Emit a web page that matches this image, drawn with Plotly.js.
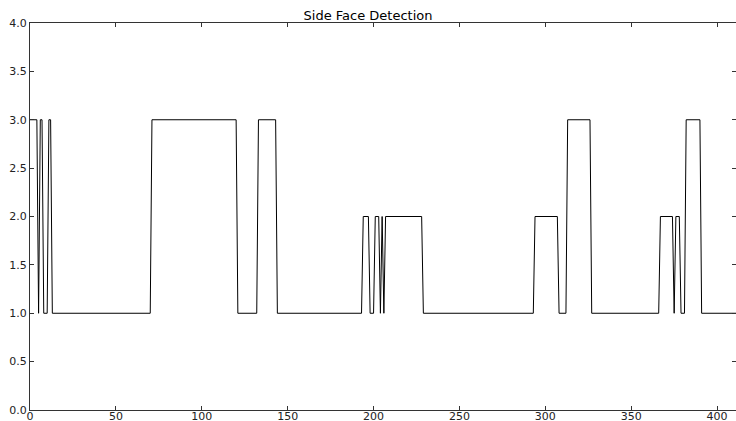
<!DOCTYPE html>
<html>
<head>
<meta charset="utf-8">
<script src="https://cdn.plot.ly/plotly-3.0.1.min.js"></script>
<style>html,body{margin:0;padding:0;background:#fff;}#chart{width:736px;height:421px;}</style>
</head>
<body>
<div id="chart"></div>
<script>
// Vertices of the detection trace (frame index, detected class)
var frames = [0,4,5,6,7,8,10,11,12,13,70,71,120,121,132,133,143,144,193,194,197,198,200,201,203,204,205,206,207,228,229,293,294,307,308,312,313,326,327,366,367,374,375,376,378,379,381,382,390,391,411];
var values = [3,3,1,3,3,1,1,3,3,1,1,3,3,1,1,3,3,1,1,2,2,1,1,2,2,1,2,1,2,2,1,1,2,2,1,1,3,3,1,1,2,2,1,2,2,1,1,3,3,1,1];
var xTicks = [0,50,100,150,200,250,300,350,400];
var yTicks = [0.0,0.5,1.0,1.5,2.0,2.5,3.0,3.5,4.0];
var yTickLabels = ['0.0','0.5','1.0','1.5','2.0','2.5','3.0','3.5','4.0'];

var trace = {
  x: frames, y: values, type: 'scatter', mode: 'lines',
  line: {color: '#000', width: 1}, hoverinfo: 'none'
};
var axisFont = {family: 'DejaVu Sans, sans-serif', size: 11, color: '#222'};
var layout = {
  width: 736, height: 421,
  margin: {l: 30, r: 0, t: 23, b: 11, pad: 0},
  paper_bgcolor: '#fff', plot_bgcolor: '#fff',
  showlegend: false,
  title: {text: 'Side Face Detection', font: {family: 'DejaVu Sans, sans-serif', size: 13, color: '#000'}, x: 0.5, xanchor: 'center', y: 0.963, yanchor: 'middle'},
  xaxis: {
    range: [0, 411], tickvals: xTicks, ticks: 'inside', ticklen: 4, tickcolor: '#333', tickwidth: 1,
    showline: true, linecolor: '#333', linewidth: 1, mirror: 'ticks', showgrid: false, zeroline: false,
    tickfont: axisFont, ticklabelstandoff: -4
  },
  yaxis: {
    range: [0, 4], tickvals: yTicks, ticktext: yTickLabels, ticks: 'inside', ticklen: 4, tickcolor: '#333', tickwidth: 1,
    showline: true, linecolor: '#333', linewidth: 1, mirror: 'ticks', showgrid: false, zeroline: false,
    tickfont: axisFont
  }
};
Plotly.newPlot('chart', [trace], layout, {staticPlot: true, displayModeBar: false});
</script>
</body>
</html>
